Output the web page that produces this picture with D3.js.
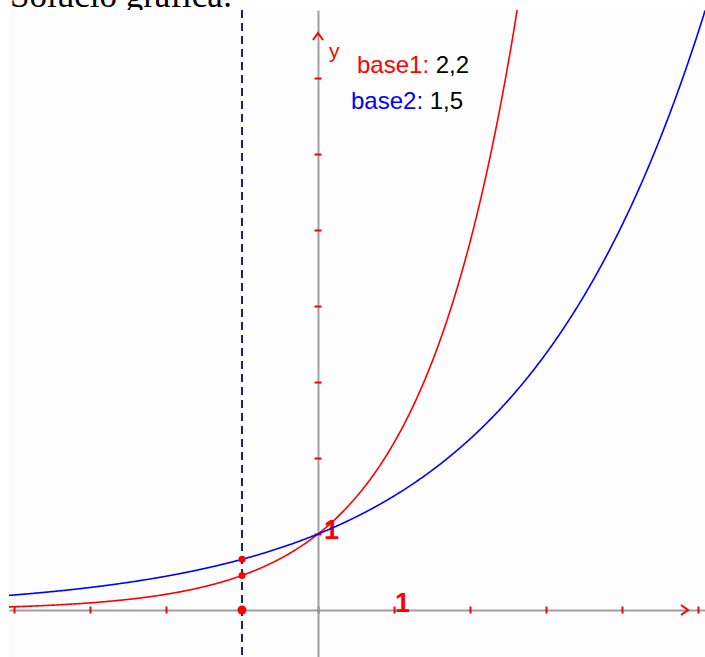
<!DOCTYPE html>
<html>
<head>
<meta charset="utf-8">
<script src="https://cdn.jsdelivr.net/npm/d3@7"></script>
<style>
  html, body { margin: 0; padding: 0; background: #ffffff; }
  svg { display: block; }
</style>
</head>
<body>
<div id="chart"></div>
<script>
// ---- data ----
const seriesNames = ["base1", "base2"];
const seriesBases = [2.2, 1.5];
const seriesBaseLabels = ["2,2", "1,5"];
const seriesColors = ["#ff0000", "#0000ff"];
const xTickValues = [-4, -3, -2, -1, 0, 1, 2, 3, 4, 5];
const yTickValues = [1, 2, 3, 4, 5, 6, 7];
const markedX = -1;
const titleText = "Solució gràfica:";

// ---- layout ----
const W = 705, H = 657;
const plotLeft = 9, plotTop = 10;
const originX = 318, originY = 610, unit = 76;

const svg = d3.select("#chart").append("svg").attr("width", W).attr("height", H);

// title (partly hidden behind the plot picture)
svg.append("text")
  .attr("x", 10).attr("y", 7)
  .attr("font-family", "Liberation Serif, Times New Roman, serif")
  .attr("font-size", 35)
  .attr("fill", "#000")
  .text(titleText);

svg.append("rect")
  .attr("x", plotLeft).attr("y", plotTop)
  .attr("width", W - plotLeft).attr("height", H - plotTop)
  .attr("fill", "#fdfdfd");

const x = d3.scaleLinear()
  .domain([(plotLeft - originX) / unit, (W - originX) / unit])
  .range([plotLeft, W]);
const y = d3.scaleLinear()
  .domain([(originY - H) / unit, (originY - plotTop) / unit])
  .range([H, plotTop]);

const g = svg.append("g");
g.append("defs").append("clipPath").attr("id", "clip")
  .append("rect").attr("x", plotLeft).attr("y", plotTop)
  .attr("width", W - plotLeft).attr("height", H - plotTop);

// axes
const xAxis = d3.axisBottom(x).tickValues(xTickValues).tickSizeInner(7).tickSizeOuter(0).tickFormat("");
const yAxis = d3.axisLeft(y).tickValues(yTickValues).tickSizeInner(7).tickSizeOuter(0).tickFormat("");

const gx = g.append("g").attr("transform", `translate(0,${y(0)})`).call(xAxis);
gx.select(".domain").attr("stroke", "#a0a0a0").attr("stroke-width", 2);
gx.selectAll(".tick line").attr("stroke", "#ff0000").attr("stroke-width", 2).attr("transform", "translate(0,-3.5)");

const gy = g.append("g").attr("transform", `translate(${x(0)},0)`).call(yAxis);
gy.select(".domain").attr("stroke", "#a0a0a0").attr("stroke-width", 2);
gy.selectAll(".tick line").attr("stroke", "#ff0000").attr("stroke-width", 2).attr("transform", "translate(3.5,0)");

// arrow heads
const ax = x(0), ay = y(0);
const yTip = 33, xTip = 688;
g.append("path")
  .attr("d", `M${ax - 5},${yTip + 7} L${ax},${yTip} L${ax + 5},${yTip + 7}`)
  .attr("fill", "none").attr("stroke", "#ff0000").attr("stroke-width", 2);
g.append("path")
  .attr("d", `M${xTip - 7},${ay - 5} L${xTip},${ay} L${xTip - 7},${ay + 5}`)
  .attr("fill", "none").attr("stroke", "#ff0000").attr("stroke-width", 2);

// axis labels
g.append("text").attr("x", ax + 11).attr("y", 58)
  .attr("font-family", "Liberation Sans, Arial, sans-serif").attr("font-size", 21)
  .attr("fill", "#ff0000").text("y");
g.append("text").attr("x", x(1) + 1).attr("y", ay + 2)
  .attr("font-family", "Liberation Sans, Arial, sans-serif").attr("font-size", 27).attr("font-weight", "bold")
  .attr("fill", "#ff0000").text("1");
g.append("text").attr("x", ax + 6).attr("y", y(1) + 5)
  .attr("font-family", "Liberation Sans, Arial, sans-serif").attr("font-size", 27).attr("font-weight", "bold")
  .attr("fill", "#ff0000").text("1");

// dashed vertical line
g.append("line")
  .attr("x1", x(markedX)).attr("x2", x(markedX))
  .attr("y1", plotTop).attr("y2", H)
  .attr("stroke", "#1c1c8c").attr("stroke-width", 2)
  .attr("stroke-dasharray", "8,5");

// curves
const xs = d3.range(x.domain()[0], x.domain()[1] + 0.01, 0.01);
const line = d3.line().x(d => x(d[0])).y(d => y(d[1]));
seriesBases.forEach((b, i) => {
  g.append("path")
    .attr("clip-path", "url(#clip)")
    .attr("d", line(xs.map(v => [v, Math.pow(b, v)]).filter(d => d[1] < 9)))
    .attr("fill", "none").attr("stroke", seriesColors[i]).attr("stroke-width", 1.6);
});

// points
seriesBases.forEach((b, i) => {
  g.append("circle").attr("cx", x(markedX)).attr("cy", y(Math.pow(b, markedX)))
    .attr("r", 3.5).attr("fill", "#ff0000");
});
g.append("circle").attr("cx", x(markedX)).attr("cy", y(0)).attr("r", 4.5).attr("fill", "#ff0000");

// legend texts
const legY = [73, 109];
const legX = [357, 351];
seriesNames.forEach((n, i) => {
  const t = g.append("text").attr("x", legX[i]).attr("y", legY[i])
    .attr("font-family", "Liberation Sans, Arial, sans-serif").attr("font-size", 24);
  t.append("tspan").attr("fill", seriesColors[i]).text(n + ":");
  t.append("tspan").attr("fill", "#000").text(" " + seriesBaseLabels[i]);
});
</script>
</body>
</html>
